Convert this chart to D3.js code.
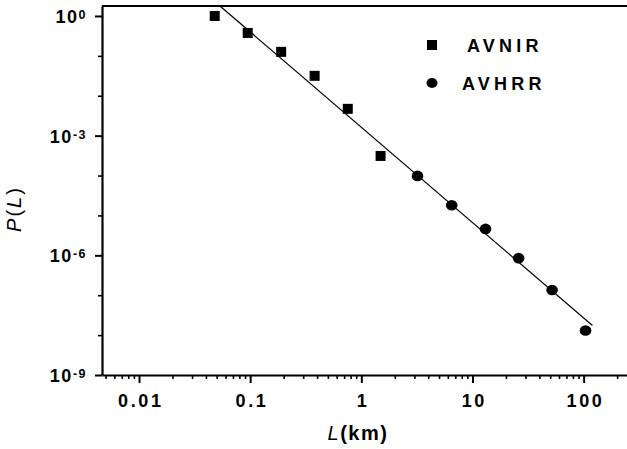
<!DOCTYPE html>
<html>
<head>
<meta charset="utf-8">
<script src="https://cdn.jsdelivr.net/npm/d3@7"></script>
<style>
  body { margin: 0; background: #fff; }
  svg { display: block; font-family: "Liberation Sans", Arial, sans-serif; font-weight: bold; }
</style>
</head>
<body>
<div id="chart"></div>
<script>
// data (L in km, P(L) probability)
var avnirL = [0.048, 0.095, 0.19, 0.38, 0.755, 1.49];
var avnirP = [1.0, 0.375, 0.126, 0.0316, 0.0047, 0.00031];
var avhrrL = [3.2, 6.5, 13.1, 26, 52, 104];
var avhrrP = [9.8e-5, 1.8e-5, 4.6e-6, 8.5e-7, 1.35e-7, 1.3e-8];
// fitted power law line, endpoints
var fitL = [0.0535, 120];
var fitP = [1.78, 1.74e-8];
var yMajor = [0, -3, -6, -9];          // exponents shown
var xMajor = [0.01, 0.1, 1, 10, 100];
var xLabels = ["0.01", "0.1", "1", "10", "100"];

(function() {
    var W = 627, H = 449;
    var left = 102, top = 6, bottom = 375, right = 627;

    var svg = d3.select("#chart").append("svg")
        .attr("width", W).attr("height", H);

    var x = d3.scaleLog()
        .domain([Math.pow(10, -2.333), Math.pow(10, 2.39)])
        .range([left, right]);
    var y = d3.scaleLog()
        .domain([1e-9, Math.pow(10, 0.25)])
        .range([bottom, top]);

    // minor tick values
    var xMinor = [];
    for (var d = -3; d <= 2; d++) {
        for (var k = 2; k <= 9; k++) {
            var v = k * Math.pow(10, d);
            if (v >= x.domain()[0] && v <= x.domain()[1]) xMinor.push(v);
        }
    }
    var yMinor = [-1, -2, -4, -5, -7, -8].map(function(e) { return Math.pow(10, e); });

    // minor ticks
    svg.append("g")
        .attr("transform", "translate(0," + bottom + ")")
        .call(d3.axisBottom(x).tickValues(xMinor).tickSize(4).tickSizeOuter(0).tickFormat(""))
        .call(function(g) { g.select(".domain").remove(); })
        .selectAll("line").attr("stroke-width", 1.6);
    svg.append("g")
        .attr("transform", "translate(" + left + ",0)")
        .call(d3.axisLeft(y).tickValues(yMinor).tickSize(4).tickSizeOuter(0).tickFormat(""))
        .call(function(g) { g.select(".domain").remove(); })
        .selectAll("line").attr("stroke-width", 1.6);

    // major x axis
    var xAxis = svg.append("g")
        .attr("transform", "translate(0," + bottom + ")")
        .call(d3.axisBottom(x).tickValues(xMajor).tickSize(8).tickSizeOuter(0)
            .tickFormat(function(d, i) { return xLabels[i]; }));
    xAxis.attr("font-family", null).attr("font-size", null);
    xAxis.selectAll("line").attr("stroke-width", 2);
    xAxis.select(".domain").attr("stroke-width", 2.2);
    xAxis.selectAll("text")
        .attr("y", 19)
        .attr("dx", 1.3)
        .attr("dy", "0.71em")
        .attr("fill", "#000")
        .style("font-size", "18px")
        .style("letter-spacing", "2.6px");

    // major y axis
    var yAxis = svg.append("g")
        .attr("transform", "translate(" + left + ",0)")
        .call(d3.axisLeft(y).tickValues(yMajor.map(function(e) { return Math.pow(10, e); }))
            .tickSize(7).tickSizeOuter(0).tickFormat(""));
    yAxis.attr("font-family", null).attr("font-size", null);
    yAxis.selectAll("line").attr("stroke-width", 2);
    yAxis.select(".domain").attr("stroke-width", 2.2);
    yAxis.selectAll(".tick").each(function(d, i) {
        var t = d3.select(this).append("text")
            .attr("x", -15)
            .attr("y", 6.5)
            .attr("text-anchor", "end")
            .attr("fill", "#000")
            .style("font-size", "18px")
            .style("letter-spacing", "1.5px");
        t.append("tspan").text("10");
        t.append("tspan")
            .attr("dy", -4)
            .style("font-size", "12.5px")
            .text(yMajor[i] === 0 ? "0" : String(yMajor[i]));
    });

    // top frame line
    svg.append("line")
        .attr("x1", left).attr("x2", right)
        .attr("y1", top).attr("y2", top)
        .attr("stroke", "#000").attr("stroke-width", 2);

    // fit line
    svg.append("path")
        .datum(d3.zip(fitL, fitP))
        .attr("fill", "none")
        .attr("stroke", "#000")
        .attr("stroke-width", 1.2)
        .attr("d", d3.line()
            .x(function(d) { return x(d[0]); })
            .y(function(d) { return y(d[1]); }));

    // AVNIR squares
    var sq = 10;
    svg.selectAll(".avnir")
        .data(d3.zip(avnirL, avnirP))
        .enter().append("rect")
        .attr("class", "avnir")
        .attr("x", function(d) { return x(d[0]) - sq / 2; })
        .attr("y", function(d) { return y(d[1]) - sq / 2; })
        .attr("width", sq).attr("height", sq)
        .attr("fill", "#000");

    // AVHRR circles
    svg.selectAll(".avhrr")
        .data(d3.zip(avhrrL, avhrrP))
        .enter().append("ellipse")
        .attr("class", "avhrr")
        .attr("cx", function(d) { return x(d[0]); })
        .attr("cy", function(d) { return y(d[1]); })
        .attr("rx", 5.8).attr("ry", 5.3)
        .attr("fill", "#000");

    // legend
    var leg = svg.append("g");
    leg.append("rect")
        .attr("x", 427).attr("y", 40).attr("width", 10).attr("height", 10)
        .attr("fill", "#000");
    leg.append("text")
        .attr("x", 467).attr("y", 52)
        .style("font-size", "18px").style("letter-spacing", "4.2px")
        .text("AVNIR");
    leg.append("ellipse")
        .attr("cx", 432).attr("cy", 83).attr("rx", 5.5).attr("ry", 5)
        .attr("fill", "#000");
    leg.append("text")
        .attr("x", 462).attr("y", 90)
        .style("font-size", "18px").style("letter-spacing", "4.2px")
        .text("AVHRR");

    // axis titles
    var xt = svg.append("text")
        .attr("x", 358).attr("y", 440)
        .attr("text-anchor", "middle")
        .style("font-size", "20px")
        .style("letter-spacing", "1.5px");
    xt.append("tspan").style("font-style", "italic").style("font-weight", "normal").text("L");
    xt.append("tspan").text("(km)");

    var yt = svg.append("text")
        .attr("transform", "translate(21,209) rotate(-90)")
        .attr("text-anchor", "middle")
        .style("font-size", "20px")
        .style("font-weight", "normal")
        .style("letter-spacing", "2px");
    yt.append("tspan").style("font-style", "italic").text("P");
    yt.append("tspan").text("(");
    yt.append("tspan").style("font-style", "italic").text("L");
    yt.append("tspan").text(")");
})();
</script>
</body>
</html>
